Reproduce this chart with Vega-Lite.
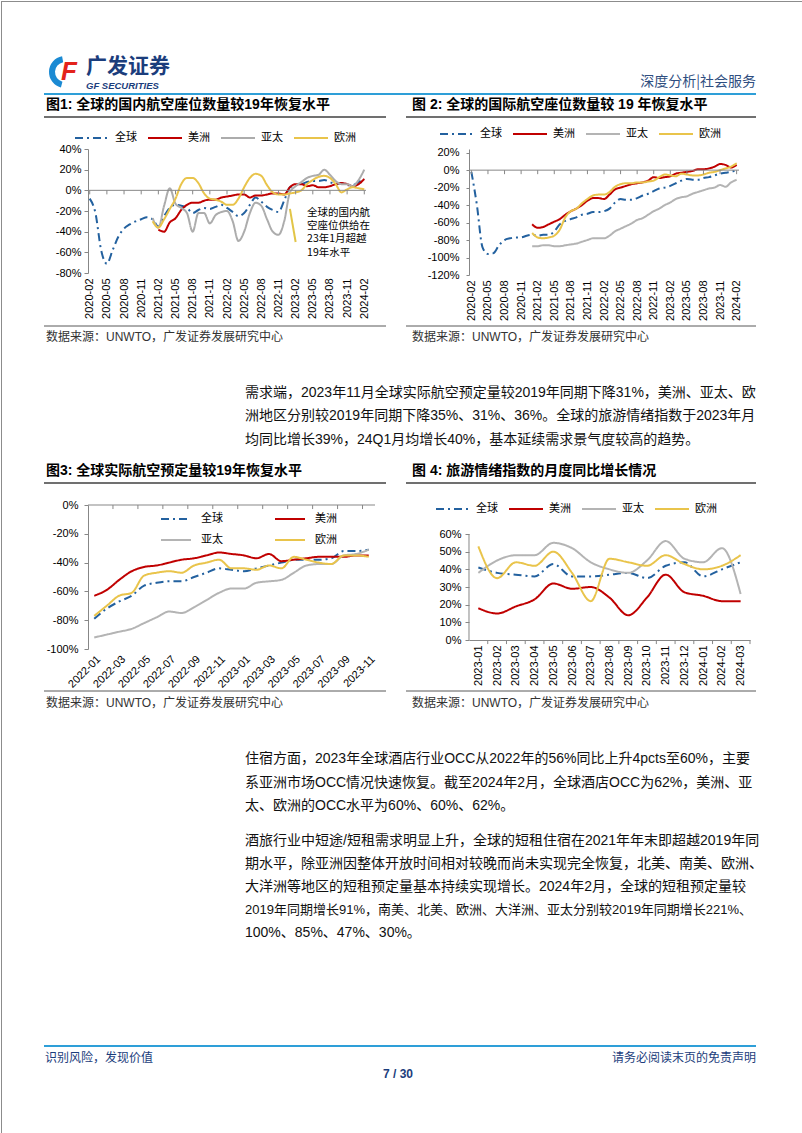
{
"$schema": "https://vega.github.io/schema/vega-lite/v6.json",
"padding": 0,
"background": "#ffffff",
"columns": 4,
"spacing": 0,
"bounds": "flush",
"align": {"row": "each", "column": "none"},
"resolve": {"scale": {"color": "independent", "strokeDash": "independent"}, "legend": {"color": "independent", "strokeDash": "independent"}},
"config": {
  "view": {"stroke": null},
  "font": "Liberation Sans, Noto Sans CJK SC",
  "axis": {"labelFont": "Liberation Sans", "labelFontSize": 11, "labelColor": "#000000", "domainColor": "#878787", "tickColor": "#878787", "tickSize": 4, "grid": false, "labelOverlap": false},
  "legend": {"symbolType": "stroke", "symbolStrokeWidth": 2, "labelFont": "Noto Sans CJK SC", "labelFontSize": 11, "labelColor": "#000000", "padding": 0},
  "text": {"font": "Liberation Sans, Noto Sans CJK SC", "color": "#000000"}
},
"concat": [
{
  "width": 1, "height": 148,
  "data": {"values": [{}]},
  "layer": [
    {"mark": {"type": "rule", "color": "#8c8c8c", "strokeWidth": 1}, "encoding": {"x": {"value": 0.5}, "y": {"value": 0}, "y2": {"value": 148}}},
    {"mark": {"type": "rule", "color": "#8c8c8c", "strokeWidth": 1}, "encoding": {"x": {"value": 801.5}, "y": {"value": 0}, "y2": {"value": 148}}},
    {"mark": {"type": "rule", "color": "#8c8c8c", "strokeWidth": 1}, "encoding": {"x": {"value": 0}, "x2": {"value": 802}, "y": {"value": 0.5}}},
    {"mark": {"type": "arc", "innerRadius": 10, "outerRadius": 16, "theta": 3.4, "theta2": 6.1, "color": "#1B8AD3"}, "encoding": {"x": {"value": 64}, "y": {"value": 71}}},
    {"mark": {"type": "text", "fontSize": 26, "fontWeight": "bold", "fontStyle": "italic", "color": "#E3231B", "align": "center", "baseline": "middle", "font": "Liberation Sans"}, "encoding": {"x": {"value": 68}, "y": {"value": 71}, "text": {"value": "F"}}},
    {"data": {"values": [{"t": "广发证券"}]}, "mark": {"type": "text", "align": "left", "baseline": "middle", "fontSize": 21, "fontWeight": "bold", "color": "#1B3D7C", "font": "Noto Sans CJK SC"}, "encoding": {"text": {"field": "t"}, "x": {"value": 85}, "y": {"value": 66}}},
    {"data": {"values": [{"t": "GF SECURITIES"}]}, "mark": {"type": "text", "align": "left", "baseline": "middle", "fontSize": 9.5, "fontWeight": "bold", "fontStyle": "italic", "color": "#1B3D7C", "font": "Liberation Sans"}, "encoding": {"text": {"field": "t"}, "x": {"value": 85}, "y": {"value": 85}}},
    {"data": {"values": [{"t": "深度分析|社会服务"}]}, "mark": {"type": "text", "align": "right", "baseline": "middle", "fontSize": 14, "color": "#2F4E80", "font": "Noto Sans CJK SC"}, "encoding": {"text": {"field": "t"}, "x": {"value": 755}, "y": {"value": 81}}},
    {"mark": {"type": "rule", "color": "#2E9FD8", "strokeWidth": 2}, "encoding": {"x": {"value": 43}, "x2": {"value": 755}, "y": {"value": 93}}},
    {"data": {"values": [{"t": "图1: 全球的国内航空座位数量较19年恢复水平"}]}, "mark": {"type": "text", "align": "left", "baseline": "middle", "fontSize": 14, "fontWeight": "bold"}, "encoding": {"text": {"field": "t"}, "x": {"value": 45}, "y": {"value": 104}}},
    {"data": {"values": [{"t": "图 2: 全球的国际航空座位数量较 19 年恢复水平"}]}, "mark": {"type": "text", "align": "left", "baseline": "middle", "fontSize": 14, "fontWeight": "bold"}, "encoding": {"text": {"field": "t"}, "x": {"value": 411}, "y": {"value": 104}}},
    {"mark": {"type": "rule", "color": "#404040", "strokeWidth": 1.5}, "encoding": {"x": {"value": 43}, "x2": {"value": 385}, "y": {"value": 116}}},
    {"mark": {"type": "rule", "color": "#404040", "strokeWidth": 1.5}, "encoding": {"x": {"value": 405}, "x2": {"value": 755}, "y": {"value": 116}}}
  ]
},
{"width": 1, "height": 1, "data": {"values": []}, "mark": "point", "encoding": {}},
{"width": 1, "height": 1, "data": {"values": []}, "mark": "point", "encoding": {}},
{"width": 1, "height": 1, "data": {"values": []}, "mark": "point", "encoding": {}},
{
  "width": 87, "height": 126,
  "data": {"values": [{}]},
  "layer": [
    {"mark": {"type": "rule", "color": "#8c8c8c", "strokeWidth": 1}, "encoding": {"x": {"value": 0.5}, "y": {"value": 0}, "y2": {"value": 126}}},
    {"mark": {"type": "rule", "color": "#8c8c8c", "strokeWidth": 1}, "encoding": {"x": {"value": 801.5}, "y": {"value": 0}, "y2": {"value": 126}}}
  ]
},
{
  "width": 278, "height": 124,
  "data": {"values": [
{"month":"2020-02","series":"全球","value":-8},{"month":"2020-03","series":"全球","value":-22},{"month":"2020-04","series":"全球","value":-58},{"month":"2020-05","series":"全球","value":-71},{"month":"2020-06","series":"全球","value":-58},{"month":"2020-07","series":"全球","value":-45},{"month":"2020-08","series":"全球","value":-37},{"month":"2020-09","series":"全球","value":-33},{"month":"2020-10","series":"全球","value":-30},{"month":"2020-11","series":"全球","value":-28},{"month":"2020-12","series":"全球","value":-26},{"month":"2021-01","series":"全球","value":-28},{"month":"2021-02","series":"全球","value":-35},{"month":"2021-03","series":"全球","value":-25},{"month":"2021-04","series":"全球","value":-17},{"month":"2021-05","series":"全球","value":-14},{"month":"2021-06","series":"全球","value":-15},{"month":"2021-07","series":"全球","value":-17},{"month":"2021-08","series":"全球","value":-22},{"month":"2021-09","series":"全球","value":-19},{"month":"2021-10","series":"全球","value":-17},{"month":"2021-11","series":"全球","value":-18},{"month":"2021-12","series":"全球","value":-16},{"month":"2022-01","series":"全球","value":-14},{"month":"2022-02","series":"全球","value":-17},{"month":"2022-03","series":"全球","value":-21},{"month":"2022-04","series":"全球","value":-25},{"month":"2022-05","series":"全球","value":-22},{"month":"2022-06","series":"全球","value":-14},{"month":"2022-07","series":"全球","value":-7},{"month":"2022-08","series":"全球","value":-11},{"month":"2022-09","series":"全球","value":-16},{"month":"2022-10","series":"全球","value":-19},{"month":"2022-11","series":"全球","value":-21},{"month":"2022-12","series":"全球","value":-10},{"month":"2023-01","series":"全球","value":3},{"month":"2023-02","series":"全球","value":5},{"month":"2023-03","series":"全球","value":6},{"month":"2023-04","series":"全球","value":8},{"month":"2023-05","series":"全球","value":9},{"month":"2023-06","series":"全球","value":9},{"month":"2023-07","series":"全球","value":10},{"month":"2023-08","series":"全球","value":8},{"month":"2023-09","series":"全球","value":6},{"month":"2023-10","series":"全球","value":7},{"month":"2023-11","series":"全球","value":5},{"month":"2023-12","series":"全球","value":5},{"month":"2024-01","series":"全球","value":8},{"month":"2024-02","series":"全球","value":11},
{"month":"2021-02","series":"美洲","value":-38},{"month":"2021-03","series":"美洲","value":-40},{"month":"2021-04","series":"美洲","value":-31},{"month":"2021-05","series":"美洲","value":-27},{"month":"2021-06","series":"美洲","value":-19},{"month":"2021-07","series":"美洲","value":-14},{"month":"2021-08","series":"美洲","value":-12},{"month":"2021-09","series":"美洲","value":-12},{"month":"2021-10","series":"美洲","value":-10},{"month":"2021-11","series":"美洲","value":-9},{"month":"2021-12","series":"美洲","value":-9},{"month":"2022-01","series":"美洲","value":-7},{"month":"2022-02","series":"美洲","value":-6},{"month":"2022-03","series":"美洲","value":-5},{"month":"2022-04","series":"美洲","value":-4},{"month":"2022-05","series":"美洲","value":-4},{"month":"2022-06","series":"美洲","value":-7},{"month":"2022-07","series":"美洲","value":-5},{"month":"2022-08","series":"美洲","value":-5},{"month":"2022-09","series":"美洲","value":-4},{"month":"2022-10","series":"美洲","value":-3},{"month":"2022-11","series":"美洲","value":-3},{"month":"2022-12","series":"美洲","value":-4},{"month":"2023-01","series":"美洲","value":3},{"month":"2023-02","series":"美洲","value":6},{"month":"2023-03","series":"美洲","value":6},{"month":"2023-04","series":"美洲","value":4},{"month":"2023-05","series":"美洲","value":5},{"month":"2023-06","series":"美洲","value":3},{"month":"2023-07","series":"美洲","value":3},{"month":"2023-08","series":"美洲","value":4},{"month":"2023-09","series":"美洲","value":6},{"month":"2023-10","series":"美洲","value":7},{"month":"2023-11","series":"美洲","value":6},{"month":"2023-12","series":"美洲","value":4},{"month":"2024-01","series":"美洲","value":6},{"month":"2024-02","series":"美洲","value":11},
{"month":"2021-01","series":"亚太","value":-27},{"month":"2021-02","series":"亚太","value":-36},{"month":"2021-03","series":"亚太","value":-15},{"month":"2021-04","series":"亚太","value":2},{"month":"2021-05","series":"亚太","value":-13},{"month":"2021-06","series":"亚太","value":-17},{"month":"2021-07","series":"亚太","value":-22},{"month":"2021-08","series":"亚太","value":-40},{"month":"2021-09","series":"亚太","value":-22},{"month":"2021-10","series":"亚太","value":-22},{"month":"2021-11","series":"亚太","value":-32},{"month":"2021-12","series":"亚太","value":-24},{"month":"2022-01","series":"亚太","value":-21},{"month":"2022-02","series":"亚太","value":-20},{"month":"2022-03","series":"亚太","value":-30},{"month":"2022-04","series":"亚太","value":-49},{"month":"2022-05","series":"亚太","value":-40},{"month":"2022-06","series":"亚太","value":-22},{"month":"2022-07","series":"亚太","value":-12},{"month":"2022-08","series":"亚太","value":-15},{"month":"2022-09","series":"亚太","value":-28},{"month":"2022-10","series":"亚太","value":-40},{"month":"2022-11","series":"亚太","value":-43},{"month":"2022-12","series":"亚太","value":-30},{"month":"2023-01","series":"亚太","value":-2},{"month":"2023-02","series":"亚太","value":4},{"month":"2023-03","series":"亚太","value":8},{"month":"2023-04","series":"亚太","value":12},{"month":"2023-05","series":"亚太","value":14},{"month":"2023-06","series":"亚太","value":15},{"month":"2023-07","series":"亚太","value":20},{"month":"2023-08","series":"亚太","value":15},{"month":"2023-09","series":"亚太","value":9},{"month":"2023-10","series":"亚太","value":6},{"month":"2023-11","series":"亚太","value":6},{"month":"2023-12","series":"亚太","value":4},{"month":"2024-01","series":"亚太","value":10},{"month":"2024-02","series":"亚太","value":20},
{"month":"2021-01","series":"欧洲","value":-30},{"month":"2021-02","series":"欧洲","value":-36},{"month":"2021-03","series":"欧洲","value":-28},{"month":"2021-04","series":"欧洲","value":-18},{"month":"2021-05","series":"欧洲","value":-8},{"month":"2021-06","series":"欧洲","value":6},{"month":"2021-07","series":"欧洲","value":12},{"month":"2021-08","series":"欧洲","value":12},{"month":"2021-09","series":"欧洲","value":7},{"month":"2021-10","series":"欧洲","value":-3},{"month":"2021-11","series":"欧洲","value":-8},{"month":"2021-12","series":"欧洲","value":-9},{"month":"2022-01","series":"欧洲","value":-11},{"month":"2022-02","series":"欧洲","value":-14},{"month":"2022-03","series":"欧洲","value":-14},{"month":"2022-04","series":"欧洲","value":-8},{"month":"2022-05","series":"欧洲","value":3},{"month":"2022-06","series":"欧洲","value":12},{"month":"2022-07","series":"欧洲","value":16},{"month":"2022-08","series":"欧洲","value":14},{"month":"2022-09","series":"欧洲","value":5},{"month":"2022-10","series":"欧洲","value":-2},{"month":"2022-11","series":"欧洲","value":-4},{"month":"2022-12","series":"欧洲","value":-4},{"month":"2023-01","series":"欧洲","value":-3},{"month":"2023-02","series":"欧洲","value":-2},{"month":"2023-03","series":"欧洲","value":0},{"month":"2023-04","series":"欧洲","value":6},{"month":"2023-05","series":"欧洲","value":10},{"month":"2023-06","series":"欧洲","value":13},{"month":"2023-07","series":"欧洲","value":14},{"month":"2023-08","series":"欧洲","value":12},{"month":"2023-09","series":"欧洲","value":6},{"month":"2023-10","series":"欧洲","value":-2},{"month":"2023-11","series":"欧洲","value":1},{"month":"2023-12","series":"欧洲","value":3},{"month":"2024-01","series":"欧洲","value":2},{"month":"2024-02","series":"欧洲","value":1}
  ]},
  "layer": [
    {"mark": {"type": "line", "interpolate": "monotone", "strokeWidth": 2},
     "encoding": {
       "x": {"field": "month", "type": "ordinal", "scale": {"type": "point", "padding": 0.3}, "axis": {"title": null, "values": ["2020-02","2020-05","2020-08","2020-11","2021-02","2021-05","2021-08","2021-11","2022-02","2022-05","2022-08","2022-11","2023-02","2023-05","2023-08","2023-11","2024-02"], "labelAngle": 270, "domain": false, "ticks": false, "labelPadding": 5, "labelOverlap": false}},
       "y": {"field": "value", "type": "quantitative", "scale": {"domain": [-80, 40], "nice": false, "zero": false}, "axis": {"title": null, "values": [-80,-60,-40,-20,0,20,40], "labelExpr": "datum.value + '%'", "labelPadding": 3, "labelOverlap": false}},
       "color": {"field": "series", "type": "nominal", "title": null, "scale": {"domain": ["全球","美洲","亚太","欧洲"], "range": ["#23619F","#C00000","#ACACAC","#E9C44B"]}, "legend": {"orient": "none", "legendX": -14, "legendY": -29, "direction": "horizontal", "title": null, "symbolSize": 1156, "labelOffset": 5, "columnPadding": 7}},
       "strokeDash": {"field": "series", "type": "nominal", "title": null, "scale": {"domain": ["全球","美洲","亚太","欧洲"], "range": [[8,4,2,4],[1,0],[1,0],[1,0]]}, "legend": {"orient": "none", "legendX": -14, "legendY": -29, "direction": "horizontal", "title": null, "symbolSize": 1156, "labelOffset": 5, "columnPadding": 7}}
     }},
    {"data": {"values": [{}]}, "mark": {"type": "rule", "color": "#878787", "strokeWidth": 1}, "encoding": {"y": {"datum": 0, "type": "quantitative", "axis": {"title": null, "values": [-80,-60,-40,-20,0,20,40], "labelExpr": "datum.value + '%'", "labelPadding": 3, "labelOverlap": false}}}},
    {"data": {"values": [{"month":"2020-02"},{"month":"2020-05"},{"month":"2020-08"},{"month":"2020-11"},{"month":"2021-02"},{"month":"2021-05"},{"month":"2021-08"},{"month":"2021-11"},{"month":"2022-02"},{"month":"2022-05"},{"month":"2022-08"},{"month":"2022-11"},{"month":"2023-02"},{"month":"2023-05"},{"month":"2023-08"},{"month":"2023-11"},{"month":"2024-02"}]},
     "mark": {"type": "rule", "color": "#878787", "strokeWidth": 1},
     "encoding": {"x": {"field": "month", "type": "ordinal"}, "y": {"datum": 0, "type": "quantitative", "axis": {"title": null, "values": [-80,-60,-40,-20,0,20,40], "labelExpr": "datum.value + '%'", "labelPadding": 3, "labelOverlap": false}}, "y2": {"datum": -3.9}}},
    {"data": {"values": [{"month": "2023-01", "value": -18}, {"month": "2023-02", "value": -50}]}, "mark": {"type": "line", "color": "#E2C547", "strokeWidth": 2}, "encoding": {"x": {"field": "month", "type": "ordinal"}, "y": {"field": "value", "type": "quantitative", "axis": {"title": null, "values": [-80,-60,-40,-20,0,20,40], "labelExpr": "datum.value + '%'", "labelPadding": 3, "labelOverlap": false}}}},
    {"data": {"values": [{"note": ["全球的国内航", "空座位供给在", "23年1月超越", "19年水平"]}]}, "mark": {"type": "text", "align": "left", "baseline": "middle", "fontSize": 10.5, "lineHeight": 13.3, "font": "Noto Sans CJK SC", "color": "#000000"}, "encoding": {"text": {"field": "note"}, "x": {"datum": "2023-04", "type": "ordinal"}, "y": {"datum": -21.6, "type": "quantitative", "axis": {"title": null, "values": [-80,-60,-40,-20,0,20,40], "labelExpr": "datum.value + '%'", "labelPadding": 3, "labelOverlap": false}}}}
  ]
},
{"width": 94, "height": 1, "data": {"values": []}, "mark": "point", "encoding": {}},
{
  "width": 270, "height": 126,
  "data": {"values": [
{"month":"2020-02","series":"全球","value":-2},{"month":"2020-03","series":"全球","value":-40},{"month":"2020-04","series":"全球","value":-88},{"month":"2020-05","series":"全球","value":-96},{"month":"2020-06","series":"全球","value":-95},{"month":"2020-07","series":"全球","value":-86},{"month":"2020-08","series":"全球","value":-80},{"month":"2020-09","series":"全球","value":-78},{"month":"2020-10","series":"全球","value":-77},{"month":"2020-11","series":"全球","value":-77},{"month":"2020-12","series":"全球","value":-75},{"month":"2021-01","series":"全球","value":-74},{"month":"2021-02","series":"全球","value":-75},{"month":"2021-03","series":"全球","value":-74},{"month":"2021-04","series":"全球","value":-74},{"month":"2021-05","series":"全球","value":-70},{"month":"2021-06","series":"全球","value":-62},{"month":"2021-07","series":"全球","value":-58},{"month":"2021-08","series":"全球","value":-56},{"month":"2021-09","series":"全球","value":-54},{"month":"2021-10","series":"全球","value":-51},{"month":"2021-11","series":"全球","value":-50},{"month":"2021-12","series":"全球","value":-48},{"month":"2022-01","series":"全球","value":-48},{"month":"2022-02","series":"全球","value":-47},{"month":"2022-03","series":"全球","value":-44},{"month":"2022-04","series":"全球","value":-37},{"month":"2022-05","series":"全球","value":-33},{"month":"2022-06","series":"全球","value":-34},{"month":"2022-07","series":"全球","value":-34},{"month":"2022-08","series":"全球","value":-32},{"month":"2022-09","series":"全球","value":-29},{"month":"2022-10","series":"全球","value":-27},{"month":"2022-11","series":"全球","value":-24},{"month":"2022-12","series":"全球","value":-21},{"month":"2023-01","series":"全球","value":-20},{"month":"2023-02","series":"全球","value":-18},{"month":"2023-03","series":"全球","value":-15},{"month":"2023-04","series":"全球","value":-12},{"month":"2023-05","series":"全球","value":-10},{"month":"2023-06","series":"全球","value":-11},{"month":"2023-07","series":"全球","value":-11},{"month":"2023-08","series":"全球","value":-9},{"month":"2023-09","series":"全球","value":-8},{"month":"2023-10","series":"全球","value":-6},{"month":"2023-11","series":"全球","value":-4},{"month":"2023-12","series":"全球","value":-3},{"month":"2024-01","series":"全球","value":-2},{"month":"2024-02","series":"全球","value":0},
{"month":"2021-01","series":"美洲","value":-62},{"month":"2021-02","series":"美洲","value":-66},{"month":"2021-03","series":"美洲","value":-65},{"month":"2021-04","series":"美洲","value":-62},{"month":"2021-05","series":"美洲","value":-59},{"month":"2021-06","series":"美洲","value":-56},{"month":"2021-07","series":"美洲","value":-51},{"month":"2021-08","series":"美洲","value":-47},{"month":"2021-09","series":"美洲","value":-44},{"month":"2021-10","series":"美洲","value":-40},{"month":"2021-11","series":"美洲","value":-35},{"month":"2021-12","series":"美洲","value":-32},{"month":"2022-01","series":"美洲","value":-32},{"month":"2022-02","series":"美洲","value":-33},{"month":"2022-03","series":"美洲","value":-28},{"month":"2022-04","series":"美洲","value":-22},{"month":"2022-05","series":"美洲","value":-20},{"month":"2022-06","series":"美洲","value":-18},{"month":"2022-07","series":"美洲","value":-16},{"month":"2022-08","series":"美洲","value":-15},{"month":"2022-09","series":"美洲","value":-14},{"month":"2022-10","series":"美洲","value":-12},{"month":"2022-11","series":"美洲","value":-8},{"month":"2022-12","series":"美洲","value":-9},{"month":"2023-01","series":"美洲","value":-8},{"month":"2023-02","series":"美洲","value":-7},{"month":"2023-03","series":"美洲","value":-4},{"month":"2023-04","series":"美洲","value":-3},{"month":"2023-05","series":"美洲","value":-2},{"month":"2023-06","series":"美洲","value":-1},{"month":"2023-07","series":"美洲","value":1},{"month":"2023-08","series":"美洲","value":1},{"month":"2023-09","series":"美洲","value":2},{"month":"2023-10","series":"美洲","value":4},{"month":"2023-11","series":"美洲","value":7},{"month":"2023-12","series":"美洲","value":6},{"month":"2024-01","series":"美洲","value":3},{"month":"2024-02","series":"美洲","value":6},
{"month":"2021-01","series":"亚太","value":-87},{"month":"2021-02","series":"亚太","value":-87},{"month":"2021-03","series":"亚太","value":-86},{"month":"2021-04","series":"亚太","value":-86},{"month":"2021-05","series":"亚太","value":-87},{"month":"2021-06","series":"亚太","value":-87},{"month":"2021-07","series":"亚太","value":-86},{"month":"2021-08","series":"亚太","value":-85},{"month":"2021-09","series":"亚太","value":-84},{"month":"2021-10","series":"亚太","value":-82},{"month":"2021-11","series":"亚太","value":-80},{"month":"2021-12","series":"亚太","value":-78},{"month":"2022-01","series":"亚太","value":-78},{"month":"2022-02","series":"亚太","value":-78},{"month":"2022-03","series":"亚太","value":-75},{"month":"2022-04","series":"亚太","value":-70},{"month":"2022-05","series":"亚太","value":-67},{"month":"2022-06","series":"亚太","value":-64},{"month":"2022-07","series":"亚太","value":-61},{"month":"2022-08","series":"亚太","value":-57},{"month":"2022-09","series":"亚太","value":-55},{"month":"2022-10","series":"亚太","value":-51},{"month":"2022-11","series":"亚太","value":-47},{"month":"2022-12","series":"亚太","value":-44},{"month":"2023-01","series":"亚太","value":-40},{"month":"2023-02","series":"亚太","value":-37},{"month":"2023-03","series":"亚太","value":-33},{"month":"2023-04","series":"亚太","value":-31},{"month":"2023-05","series":"亚太","value":-30},{"month":"2023-06","series":"亚太","value":-27},{"month":"2023-07","series":"亚太","value":-25},{"month":"2023-08","series":"亚太","value":-23},{"month":"2023-09","series":"亚太","value":-21},{"month":"2023-10","series":"亚太","value":-20},{"month":"2023-11","series":"亚太","value":-17},{"month":"2023-12","series":"亚太","value":-19},{"month":"2024-01","series":"亚太","value":-14},{"month":"2024-02","series":"亚太","value":-11},
{"month":"2021-01","series":"欧洲","value":-72},{"month":"2021-02","series":"欧洲","value":-77},{"month":"2021-03","series":"欧洲","value":-78},{"month":"2021-04","series":"欧洲","value":-77},{"month":"2021-05","series":"欧洲","value":-75},{"month":"2021-06","series":"欧洲","value":-68},{"month":"2021-07","series":"欧洲","value":-54},{"month":"2021-08","series":"欧洲","value":-47},{"month":"2021-09","series":"欧洲","value":-44},{"month":"2021-10","series":"欧洲","value":-38},{"month":"2021-11","series":"欧洲","value":-33},{"month":"2021-12","series":"欧洲","value":-29},{"month":"2022-01","series":"欧洲","value":-28},{"month":"2022-02","series":"欧洲","value":-28},{"month":"2022-03","series":"欧洲","value":-25},{"month":"2022-04","series":"欧洲","value":-19},{"month":"2022-05","series":"欧洲","value":-16},{"month":"2022-06","series":"欧洲","value":-15},{"month":"2022-07","series":"欧洲","value":-15},{"month":"2022-08","series":"欧洲","value":-14},{"month":"2022-09","series":"欧洲","value":-14},{"month":"2022-10","series":"欧洲","value":-13},{"month":"2022-11","series":"欧洲","value":-12},{"month":"2022-12","series":"欧洲","value":-8},{"month":"2023-01","series":"欧洲","value":-5},{"month":"2023-02","series":"欧洲","value":-6},{"month":"2023-03","series":"欧洲","value":-7},{"month":"2023-04","series":"欧洲","value":-4},{"month":"2023-05","series":"欧洲","value":-5},{"month":"2023-06","series":"欧洲","value":-6},{"month":"2023-07","series":"欧洲","value":-6},{"month":"2023-08","series":"欧洲","value":-5},{"month":"2023-09","series":"欧洲","value":-3},{"month":"2023-10","series":"欧洲","value":-2},{"month":"2023-11","series":"欧洲","value":0},{"month":"2023-12","series":"欧洲","value":2},{"month":"2024-01","series":"欧洲","value":4},{"month":"2024-02","series":"欧洲","value":8}
  ]},
  "layer": [
    {"mark": {"type": "line", "interpolate": "monotone", "strokeWidth": 2},
     "encoding": {
       "x": {"field": "month", "type": "ordinal", "scale": {"type": "point", "padding": 0.43}, "axis": {"title": null, "values": ["2020-02","2020-05","2020-08","2020-11","2021-02","2021-05","2021-08","2021-11","2022-02","2022-05","2022-08","2022-11","2023-02","2023-05","2023-08","2023-11","2024-02"], "labelAngle": 270, "domain": false, "ticks": false, "labelPadding": 5, "labelOverlap": false}},
       "y": {"field": "value", "type": "quantitative", "scale": {"domain": [-120, 24.2], "nice": false, "zero": false}, "axis": {"title": null, "values": [-120,-100,-80,-60,-40,-20,0,20], "labelExpr": "datum.value + '%'", "tickSize": 3, "labelPadding": 7, "labelOverlap": false}},
       "color": {"field": "series", "type": "nominal", "title": null, "scale": {"domain": ["全球","美洲","亚太","欧洲"], "range": ["#23619F","#C00000","#B4B4B4","#E9C44B"]}, "legend": {"orient": "none", "legendX": -30, "legendY": -33, "direction": "horizontal", "title": null, "symbolSize": 1156, "labelOffset": 5, "columnPadding": 7}},
       "strokeDash": {"field": "series", "type": "nominal", "title": null, "scale": {"domain": ["全球","美洲","亚太","欧洲"], "range": [[8,4,2,4],[1,0],[1,0],[1,0]]}, "legend": {"orient": "none", "legendX": -30, "legendY": -33, "direction": "horizontal", "title": null, "symbolSize": 1156, "labelOffset": 5, "columnPadding": 7}}
     }},
    {"data": {"values": [{}]}, "mark": {"type": "rule", "color": "#878787", "strokeWidth": 1}, "encoding": {"y": {"datum": 0, "type": "quantitative", "axis": {"title": null, "values": [-120,-100,-80,-60,-40,-20,0,20], "labelExpr": "datum.value + '%'", "tickSize": 3, "labelPadding": 7, "labelOverlap": false}}}},
    {"data": {"values": [{"month":"2020-02"},{"month":"2020-05"},{"month":"2020-08"},{"month":"2020-11"},{"month":"2021-02"},{"month":"2021-05"},{"month":"2021-08"},{"month":"2021-11"},{"month":"2022-02"},{"month":"2022-05"},{"month":"2022-08"},{"month":"2022-11"},{"month":"2023-02"},{"month":"2023-05"},{"month":"2023-08"},{"month":"2023-11"},{"month":"2024-02"}]},
     "mark": {"type": "rule", "color": "#878787", "strokeWidth": 1},
     "encoding": {"x": {"field": "month", "type": "ordinal"}, "y": {"datum": 0, "type": "quantitative", "axis": {"title": null, "values": [-120,-100,-80,-60,-40,-20,0,20], "labelExpr": "datum.value + '%'", "tickSize": 3, "labelPadding": 7, "labelOverlap": false}}, "y2": {"datum": -4.6}}}
  ]
},
{
  "width": 1, "height": 230,
  "data": {"values": [{}]},
  "layer": [
    {"mark": {"type": "rule", "color": "#8c8c8c", "strokeWidth": 1}, "encoding": {"x": {"value": 0.5}, "y": {"value": 0}, "y2": {"value": 230}}},
    {"mark": {"type": "rule", "color": "#8c8c8c", "strokeWidth": 1}, "encoding": {"x": {"value": 801.5}, "y": {"value": 0}, "y2": {"value": 230}}},
    {"mark": {"type": "rule", "color": "#595959", "strokeWidth": 1}, "encoding": {"x": {"value": 43}, "x2": {"value": 385}, "y": {"value": 51}}},
    {"mark": {"type": "rule", "color": "#595959", "strokeWidth": 1}, "encoding": {"x": {"value": 405}, "x2": {"value": 755}, "y": {"value": 51}}},
    {"data": {"values": [{"t": "数据来源：UNWTO，广发证券发展研究中心"}]}, "mark": {"type": "text", "align": "left", "baseline": "middle", "fontSize": 12, "color": "#333333"}, "encoding": {"text": {"field": "t"}, "x": {"value": 45}, "y": {"value": 62}}},
    {"data": {"values": [{"t": "数据来源：UNWTO，广发证券发展研究中心"}]}, "mark": {"type": "text", "align": "left", "baseline": "middle", "fontSize": 12, "color": "#333333"}, "encoding": {"text": {"field": "t"}, "x": {"value": 411}, "y": {"value": 62}}},
    {"data": {"values": [{"lines": ["需求端，2023年11月全球实际航空预定量较2019年同期下降31%，美洲、亚太、欧", "洲地区分别较2019年同期下降35%、31%、36%。全球的旅游情绪指数于2023年月", "均同比增长39%，24Q1月均增长40%，基本延续需求景气度较高的趋势。"]}]}, "mark": {"type": "text", "align": "left", "baseline": "middle", "fontSize": 14, "lineHeight": 23.5, "color": "#111111"}, "encoding": {"text": {"field": "lines"}, "x": {"value": 244}, "y": {"value": 117.5}}},
    {"data": {"values": [{"t": "图3: 全球实际航空预定量较19年恢复水平"}]}, "mark": {"type": "text", "align": "left", "baseline": "middle", "fontSize": 14, "fontWeight": "bold"}, "encoding": {"text": {"field": "t"}, "x": {"value": 45}, "y": {"value": 196}}},
    {"data": {"values": [{"t": "图 4: 旅游情绪指数的月度同比增长情况"}]}, "mark": {"type": "text", "align": "left", "baseline": "middle", "fontSize": 14, "fontWeight": "bold"}, "encoding": {"text": {"field": "t"}, "x": {"value": 411}, "y": {"value": 196}}},
    {"mark": {"type": "rule", "color": "#404040", "strokeWidth": 1.5}, "encoding": {"x": {"value": 43}, "x2": {"value": 385}, "y": {"value": 208}}},
    {"mark": {"type": "rule", "color": "#404040", "strokeWidth": 1.5}, "encoding": {"x": {"value": 405}, "x2": {"value": 755}, "y": {"value": 208}}}
  ]
},
{"width": 1, "height": 1, "data": {"values": []}, "mark": "point", "encoding": {}},
{"width": 1, "height": 1, "data": {"values": []}, "mark": "point", "encoding": {}},
{"width": 1, "height": 1, "data": {"values": []}, "mark": "point", "encoding": {}},
{
  "width": 86, "height": 144,
  "data": {"values": [{}]},
  "layer": [
    {"mark": {"type": "rule", "color": "#8c8c8c", "strokeWidth": 1}, "encoding": {"x": {"value": 0.5}, "y": {"value": 0}, "y2": {"value": 144}}},
    {"mark": {"type": "rule", "color": "#8c8c8c", "strokeWidth": 1}, "encoding": {"x": {"value": 801.5}, "y": {"value": 0}, "y2": {"value": 144}}}
  ]
},
{
  "width": 287, "height": 144,
  "data": {"values": [
{"month":"2022-01","series":"全球","value":-79},{"month":"2022-02","series":"全球","value":-72},{"month":"2022-03","series":"全球","value":-67},{"month":"2022-04","series":"全球","value":-63},{"month":"2022-05","series":"全球","value":-56},{"month":"2022-06","series":"全球","value":-54},{"month":"2022-07","series":"全球","value":-53},{"month":"2022-08","series":"全球","value":-53},{"month":"2022-09","series":"全球","value":-50},{"month":"2022-10","series":"全球","value":-47},{"month":"2022-11","series":"全球","value":-44},{"month":"2022-12","series":"全球","value":-45},{"month":"2023-01","series":"全球","value":-46},{"month":"2023-02","series":"全球","value":-44},{"month":"2023-03","series":"全球","value":-42},{"month":"2023-04","series":"全球","value":-40},{"month":"2023-05","series":"全球","value":-38},{"month":"2023-06","series":"全球","value":-38},{"month":"2023-07","series":"全球","value":-38},{"month":"2023-08","series":"全球","value":-37},{"month":"2023-09","series":"全球","value":-32},{"month":"2023-10","series":"全球","value":-32},{"month":"2023-11","series":"全球","value":-31},
{"month":"2022-01","series":"美洲","value":-63},{"month":"2022-02","series":"美洲","value":-59},{"month":"2022-03","series":"美洲","value":-52},{"month":"2022-04","series":"美洲","value":-46},{"month":"2022-05","series":"美洲","value":-43},{"month":"2022-06","series":"美洲","value":-42},{"month":"2022-07","series":"美洲","value":-40},{"month":"2022-08","series":"美洲","value":-38},{"month":"2022-09","series":"美洲","value":-37},{"month":"2022-10","series":"美洲","value":-35},{"month":"2022-11","series":"美洲","value":-33},{"month":"2022-12","series":"美洲","value":-34},{"month":"2023-01","series":"美洲","value":-35},{"month":"2023-02","series":"美洲","value":-37},{"month":"2023-03","series":"美洲","value":-34},{"month":"2023-04","series":"美洲","value":-39},{"month":"2023-05","series":"美洲","value":-38},{"month":"2023-06","series":"美洲","value":-37},{"month":"2023-07","series":"美洲","value":-36},{"month":"2023-08","series":"美洲","value":-36},{"month":"2023-09","series":"美洲","value":-36},{"month":"2023-10","series":"美洲","value":-35},{"month":"2023-11","series":"美洲","value":-35},
{"month":"2022-01","series":"亚太","value":-92},{"month":"2022-02","series":"亚太","value":-90},{"month":"2022-03","series":"亚太","value":-88},{"month":"2022-04","series":"亚太","value":-86},{"month":"2022-05","series":"亚太","value":-82},{"month":"2022-06","series":"亚太","value":-78},{"month":"2022-07","series":"亚太","value":-74},{"month":"2022-08","series":"亚太","value":-75},{"month":"2022-09","series":"亚太","value":-71},{"month":"2022-10","series":"亚太","value":-66},{"month":"2022-11","series":"亚太","value":-61},{"month":"2022-12","series":"亚太","value":-58},{"month":"2023-01","series":"亚太","value":-58},{"month":"2023-02","series":"亚太","value":-54},{"month":"2023-03","series":"亚太","value":-53},{"month":"2023-04","series":"亚太","value":-52},{"month":"2023-05","series":"亚太","value":-47},{"month":"2023-06","series":"亚太","value":-42},{"month":"2023-07","series":"亚太","value":-41},{"month":"2023-08","series":"亚太","value":-41},{"month":"2023-09","series":"亚太","value":-35},{"month":"2023-10","series":"亚太","value":-34},{"month":"2023-11","series":"亚太","value":-31},
{"month":"2022-01","series":"欧洲","value":-77},{"month":"2022-02","series":"欧洲","value":-70},{"month":"2022-03","series":"欧洲","value":-63},{"month":"2022-04","series":"欧洲","value":-61},{"month":"2022-05","series":"欧洲","value":-49},{"month":"2022-06","series":"欧洲","value":-47},{"month":"2022-07","series":"欧洲","value":-46},{"month":"2022-08","series":"欧洲","value":-47},{"month":"2022-09","series":"欧洲","value":-42},{"month":"2022-10","series":"欧洲","value":-40},{"month":"2022-11","series":"欧洲","value":-38},{"month":"2022-12","series":"欧洲","value":-44},{"month":"2023-01","series":"欧洲","value":-44},{"month":"2023-02","series":"欧洲","value":-45},{"month":"2023-03","series":"欧洲","value":-42},{"month":"2023-04","series":"欧洲","value":-44},{"month":"2023-05","series":"欧洲","value":-36},{"month":"2023-06","series":"欧洲","value":-38},{"month":"2023-07","series":"欧洲","value":-40},{"month":"2023-08","series":"欧洲","value":-41},{"month":"2023-09","series":"欧洲","value":-35},{"month":"2023-10","series":"欧洲","value":-35},{"month":"2023-11","series":"欧洲","value":-36}
  ]},
  "layer": [
    {"mark": {"type": "line", "interpolate": "monotone", "strokeWidth": 2},
     "encoding": {
       "x": {"field": "month", "type": "ordinal", "scale": {"type": "point", "padding": 0.5}, "axis": {"title": null, "values": ["2022-01","2022-03","2022-05","2022-07","2022-09","2022-11","2023-01","2023-03","2023-05","2023-07","2023-09","2023-11"], "labelAngle": 315, "domain": false, "ticks": false, "labelPadding": 4, "labelOverlap": false}},
       "y": {"field": "value", "type": "quantitative", "scale": {"domain": [-100, 0], "nice": false, "zero": false}, "axis": {"title": null, "values": [-100,-80,-60,-40,-20,0], "labelExpr": "datum.value + '%'", "labelPadding": 6, "labelOverlap": false}},
       "color": {"field": "series", "type": "nominal", "title": null, "scale": {"domain": ["全球","美洲","亚太","欧洲"], "range": ["#23619F","#C00000","#B4B4B4","#E9C44B"]}, "legend": {"orient": "none", "legendX": 72, "legendY": -2, "direction": "horizontal", "columns": 2, "title": null, "symbolSize": 900, "labelOffset": 9, "columnPadding": 48, "rowPadding": -9}},
       "strokeDash": {"field": "series", "type": "nominal", "title": null, "scale": {"domain": ["全球","美洲","亚太","欧洲"], "range": [[8,4,2,4],[1,0],[1,0],[1,0]]}, "legend": {"orient": "none", "legendX": 72, "legendY": -2, "direction": "horizontal", "columns": 2, "title": null, "symbolSize": 900, "labelOffset": 9, "columnPadding": 48, "rowPadding": -9}}
     }},
    {"data": {"values": [{}]}, "mark": {"type": "rule", "color": "#878787", "strokeWidth": 1}, "encoding": {"y": {"datum": 0, "type": "quantitative", "axis": {"title": null, "values": [-100,-80,-60,-40,-20,0], "labelExpr": "datum.value + '%'", "labelPadding": 6, "labelOverlap": false}}}},
    {"data": {"values": [{"month":"2022-02"},{"month":"2022-04"},{"month":"2022-06"},{"month":"2022-08"},{"month":"2022-10"},{"month":"2022-12"},{"month":"2023-02"},{"month":"2023-04"},{"month":"2023-06"},{"month":"2023-08"},{"month":"2023-10"}]},
     "mark": {"type": "rule", "color": "#878787", "strokeWidth": 1, "xOffset": 6.24},
     "encoding": {"x": {"field": "month", "type": "ordinal"}, "y": {"datum": 0, "type": "quantitative", "axis": {"title": null, "values": [-100,-80,-60,-40,-20,0], "labelExpr": "datum.value + '%'", "labelPadding": 6, "labelOverlap": false}}, "y2": {"datum": -2.8}}}
  ]
},
{"width": 75, "height": 1, "data": {"values": []}, "mark": "point", "encoding": {}},
{
  "width": 281, "height": 135,
  "data": {"values": [
{"month":"2023-01","series":"全球","value":41},{"month":"2023-02","series":"全球","value":38},{"month":"2023-03","series":"全球","value":37},{"month":"2023-04","series":"全球","value":36},{"month":"2023-05","series":"全球","value":43},{"month":"2023-06","series":"全球","value":36},{"month":"2023-07","series":"全球","value":36},{"month":"2023-08","series":"全球","value":37},{"month":"2023-09","series":"全球","value":38},{"month":"2023-10","series":"全球","value":35},{"month":"2023-11","series":"全球","value":42},{"month":"2023-12","series":"全球","value":44},{"month":"2024-01","series":"全球","value":36},{"month":"2024-02","series":"全球","value":40},{"month":"2024-03","series":"全球","value":44},
{"month":"2023-01","series":"美洲","value":18},{"month":"2023-02","series":"美洲","value":15},{"month":"2023-03","series":"美洲","value":19},{"month":"2023-04","series":"美洲","value":23},{"month":"2023-05","series":"美洲","value":32},{"month":"2023-06","series":"美洲","value":29},{"month":"2023-07","series":"美洲","value":30},{"month":"2023-08","series":"美洲","value":24},{"month":"2023-09","series":"美洲","value":14},{"month":"2023-10","series":"美洲","value":24},{"month":"2023-11","series":"美洲","value":37},{"month":"2023-12","series":"美洲","value":27},{"month":"2024-01","series":"美洲","value":25},{"month":"2024-02","series":"美洲","value":22},{"month":"2024-03","series":"美洲","value":22},
{"month":"2023-01","series":"亚太","value":38},{"month":"2023-02","series":"亚太","value":45},{"month":"2023-03","series":"亚太","value":48},{"month":"2023-04","series":"亚太","value":48},{"month":"2023-05","series":"亚太","value":55},{"month":"2023-06","series":"亚太","value":52},{"month":"2023-07","series":"亚太","value":44},{"month":"2023-08","series":"亚太","value":40},{"month":"2023-09","series":"亚太","value":38},{"month":"2023-10","series":"亚太","value":45},{"month":"2023-11","series":"亚太","value":56},{"month":"2023-12","series":"亚太","value":46},{"month":"2024-01","series":"亚太","value":44},{"month":"2024-02","series":"亚太","value":52},{"month":"2024-03","series":"亚太","value":26},
{"month":"2023-01","series":"欧洲","value":53},{"month":"2023-02","series":"欧洲","value":35},{"month":"2023-03","series":"欧洲","value":44},{"month":"2023-04","series":"欧洲","value":42},{"month":"2023-05","series":"欧洲","value":50},{"month":"2023-06","series":"欧洲","value":38},{"month":"2023-07","series":"欧洲","value":22},{"month":"2023-08","series":"欧洲","value":46},{"month":"2023-09","series":"欧洲","value":44},{"month":"2023-10","series":"欧洲","value":42},{"month":"2023-11","series":"欧洲","value":48},{"month":"2023-12","series":"欧洲","value":43},{"month":"2024-01","series":"欧洲","value":40},{"month":"2024-02","series":"欧洲","value":42},{"month":"2024-03","series":"欧洲","value":48}
  ]},
  "layer": [
    {"mark": {"type": "line", "interpolate": "monotone", "strokeWidth": 2},
     "encoding": {
       "x": {"field": "month", "type": "ordinal", "scale": {"type": "point", "padding": 0.5}, "axis": {"title": null, "labelAngle": 270, "domain": true, "ticks": false, "labelPadding": 5, "labelOverlap": false}},
       "y": {"field": "value", "type": "quantitative", "scale": {"domain": [0, 76.42], "nice": false, "zero": false}, "axis": {"title": null, "values": [0,10,20,30,40,50,60], "labelExpr": "datum.value + '%'", "labelPadding": 4, "domain": false, "labelOverlap": false}},
       "color": {"field": "series", "type": "nominal", "title": null, "scale": {"domain": ["全球","美洲","亚太","欧洲"], "range": ["#23619F","#C00000","#B4B4B4","#E9C44B"]}, "legend": {"orient": "none", "legendX": -34, "legendY": -14, "direction": "horizontal", "title": null, "symbolSize": 1156, "labelOffset": 5, "columnPadding": 7}},
       "strokeDash": {"field": "series", "type": "nominal", "title": null, "scale": {"domain": ["全球","美洲","亚太","欧洲"], "range": [[8,4,2,4],[1,0],[1,0],[1,0]]}, "legend": {"orient": "none", "legendX": -34, "legendY": -14, "direction": "horizontal", "title": null, "symbolSize": 1156, "labelOffset": 5, "columnPadding": 7}}
     }},
    {"data": {"values": [{}]}, "mark": {"type": "rule", "color": "#878787", "strokeWidth": 1, "xOffset": -9.37}, "encoding": {"x": {"datum": "2023-01", "type": "ordinal"}, "y": {"datum": 0, "type": "quantitative", "axis": {"title": null, "values": [0,10,20,30,40,50,60], "labelExpr": "datum.value + '%'", "labelPadding": 4, "domain": false, "labelOverlap": false}}, "y2": {"datum": 60}}},
    {"data": {"values": [{"month":"2023-01"},{"month":"2023-02"},{"month":"2023-03"},{"month":"2023-04"},{"month":"2023-05"},{"month":"2023-06"},{"month":"2023-07"},{"month":"2023-08"},{"month":"2023-09"},{"month":"2023-10"},{"month":"2023-11"},{"month":"2023-12"},{"month":"2024-01"},{"month":"2024-02"},{"month":"2024-03"}]},
     "mark": {"type": "rule", "color": "#878787", "strokeWidth": 1, "xOffset": 9.37},
     "encoding": {"x": {"field": "month", "type": "ordinal"}, "y": {"datum": 0, "type": "quantitative", "axis": {"title": null, "values": [0,10,20,30,40,50,60], "labelExpr": "datum.value + '%'", "labelPadding": 4, "domain": false, "labelOverlap": false}}, "y2": {"datum": -2.3}}}
  ]
},
{
  "width": 1, "height": 485,
  "data": {"values": [{}]},
  "layer": [
    {"mark": {"type": "rule", "color": "#8c8c8c", "strokeWidth": 1}, "encoding": {"x": {"value": 0.5}, "y": {"value": 0}, "y2": {"value": 485}}},
    {"mark": {"type": "rule", "color": "#8c8c8c", "strokeWidth": 1}, "encoding": {"x": {"value": 801.5}, "y": {"value": 0}, "y2": {"value": 485}}},
    {"mark": {"type": "rule", "color": "#8c8c8c", "strokeWidth": 1}, "encoding": {"x": {"value": 0}, "x2": {"value": 802}, "y": {"value": 484.5}}},
    {"mark": {"type": "rule", "color": "#595959", "strokeWidth": 1}, "encoding": {"x": {"value": 43}, "x2": {"value": 385}, "y": {"value": 42}}},
    {"mark": {"type": "rule", "color": "#595959", "strokeWidth": 1}, "encoding": {"x": {"value": 405}, "x2": {"value": 755}, "y": {"value": 42}}},
    {"data": {"values": [{"t": "数据来源：UNWTO，广发证券发展研究中心"}]}, "mark": {"type": "text", "align": "left", "baseline": "middle", "fontSize": 12, "color": "#333333"}, "encoding": {"text": {"field": "t"}, "x": {"value": 45}, "y": {"value": 54}}},
    {"data": {"values": [{"t": "数据来源：UNWTO，广发证券发展研究中心"}]}, "mark": {"type": "text", "align": "left", "baseline": "middle", "fontSize": 12, "color": "#333333"}, "encoding": {"text": {"field": "t"}, "x": {"value": 411}, "y": {"value": 54}}},
    {"data": {"values": [{"lines": ["住宿方面，2023年全球酒店行业OCC从2022年的56%同比上升4pcts至60%，主要", "系亚洲市场OCC情况快速恢复。截至2024年2月，全球酒店OCC为62%，美洲、亚", "太、欧洲的OCC水平为60%、60%、62%。"]}]}, "mark": {"type": "text", "align": "left", "baseline": "middle", "fontSize": 14, "lineHeight": 23.5, "color": "#111111"}, "encoding": {"text": {"field": "lines"}, "x": {"value": 244}, "y": {"value": 110}}},
    {"data": {"values": [{"lines": ["酒旅行业中短途/短租需求明显上升，全球的短租住宿在2021年年末即超越2019年同", "期水平，除亚洲因整体开放时间相对较晚而尚未实现完全恢复，北美、南美、欧洲、", "大洋洲等地区的短租预定量基本持续实现增长。2024年2月，全球的短租预定量较"]}]}, "mark": {"type": "text", "align": "left", "baseline": "middle", "fontSize": 14, "lineHeight": 23, "color": "#111111"}, "encoding": {"text": {"field": "lines"}, "x": {"value": 244}, "y": {"value": 192}}},
    {"data": {"values": [{"t": "2019年同期增长91%，南美、北美、欧洲、大洋洲、亚太分别较2019年同期增长221%、"}]}, "mark": {"type": "text", "align": "left", "baseline": "middle", "fontSize": 13, "color": "#111111"}, "encoding": {"text": {"field": "t"}, "x": {"value": 244}, "y": {"value": 261}}},
    {"data": {"values": [{"t": "100%、85%、47%、30%。"}]}, "mark": {"type": "text", "align": "left", "baseline": "middle", "fontSize": 14, "color": "#111111"}, "encoding": {"text": {"field": "t"}, "x": {"value": 244}, "y": {"value": 284}}},
    {"mark": {"type": "rule", "color": "#2E9FD8", "strokeWidth": 2}, "encoding": {"x": {"value": 43}, "x2": {"value": 755}, "y": {"value": 397}}},
    {"data": {"values": [{"t": "识别风险，发现价值"}]}, "mark": {"type": "text", "align": "left", "baseline": "middle", "fontSize": 12, "color": "#1B3D7C", "font": "Noto Sans CJK SC"}, "encoding": {"text": {"field": "t"}, "x": {"value": 44}, "y": {"value": 409}}},
    {"data": {"values": [{"t": "请务必阅读末页的免责声明"}]}, "mark": {"type": "text", "align": "right", "baseline": "middle", "fontSize": 12, "color": "#1B3D7C", "font": "Noto Sans CJK SC"}, "encoding": {"text": {"field": "t"}, "x": {"value": 755}, "y": {"value": 409}}},
    {"data": {"values": [{"t": "7 / 30"}]}, "mark": {"type": "text", "align": "center", "baseline": "middle", "fontSize": 12, "fontWeight": "bold", "color": "#1B3D7C", "font": "Liberation Sans Narrow, Liberation Sans"}, "encoding": {"text": {"field": "t"}, "x": {"value": 397}, "y": {"value": 425}}}
  ]
},
{"width": 1, "height": 1, "data": {"values": []}, "mark": "point", "encoding": {}},
{"width": 1, "height": 1, "data": {"values": []}, "mark": "point", "encoding": {}},
{"width": 1, "height": 1, "data": {"values": []}, "mark": "point", "encoding": {}}
]
}
